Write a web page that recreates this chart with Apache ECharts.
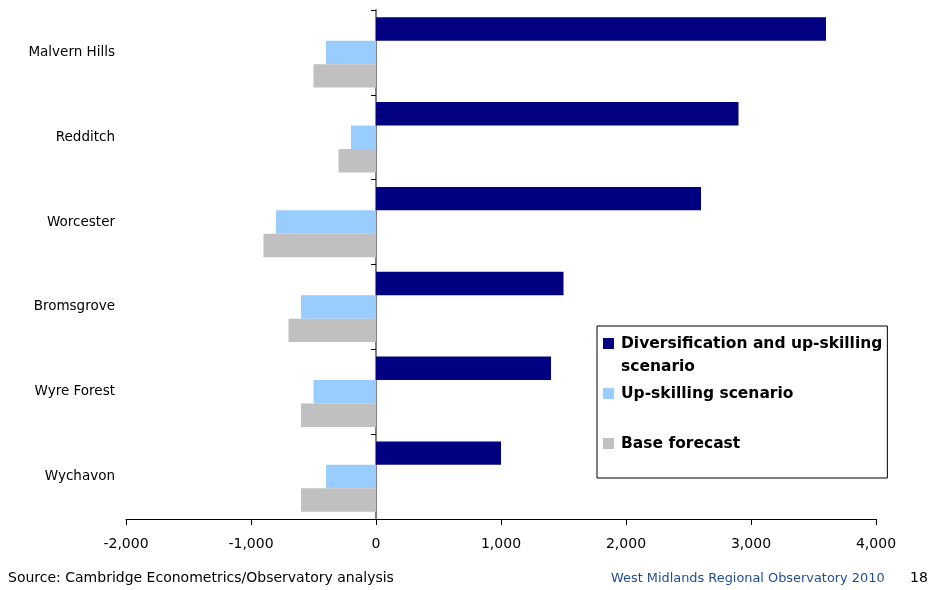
<!DOCTYPE html>
<html>
<head>
<meta charset="utf-8">
<script src="https://cdn.jsdelivr.net/npm/echarts@6/dist/echarts.min.js"></script>
<style>
  html, body { margin: 0; padding: 0; background: #fff; }
  #chart { width: 928px; height: 590px; }
</style>
</head>
<body>
<div id="chart"></div>
<script>
// districts, top to bottom
var districts = ['Malvern Hills', 'Redditch', 'Worcester', 'Bromsgrove', 'Wyre Forest', 'Wychavon'];

// change in jobs by scenario
var diversification = [3600, 2900, 2600, 1500, 1400, 1000];
var upSkilling = [-400, -200, -800, -600, -500, -400];
var baseForecast = [-500, -300, -900, -700, -600, -600];

var seriesNames = ['Diversification and up-skilling scenario', 'Up-skilling scenario', 'Base forecast'];
var legendLabels = ['Diversification and up-skilling\nscenario', 'Up-skilling scenario\n ', 'Base forecast\n '];

var FONT = '"DejaVu Sans", sans-serif';

var chart = echarts.init(document.getElementById('chart'));

// square marker sitting on the first text line
var topSquare = 'path://M0 0H11V11H0ZM0 34H0.05V34.05H0Z';

var option = {
    animation: false,
    textStyle: { fontFamily: FONT },
    grid: { left: 126, right: 52, top: 10, bottom: 71, containLabel: false },
    legend: {
        orient: 'vertical',
        left: 597,
        top: 326,
        data: seriesNames,
        icon: topSquare,
        itemWidth: 11,
        itemHeight: 34,
        itemGap: 4,
        padding: [6, 5, 0, 6],
        borderColor: '#000',
        borderWidth: 1,
        backgroundColor: '#fff',
        selectedMode: false,
        formatter: function (name) {
            return legendLabels[seriesNames.indexOf(name)];
        },
        textStyle: {
            fontFamily: FONT,
            fontSize: 15.5,
            fontWeight: 'bold',
            color: '#000',
            lineHeight: 23,
            padding: [0, 0, 0, 2]
        }
    },
    xAxis: {
        type: 'value',
        min: -2000,
        max: 4000,
        interval: 1000,
        axisLine: { show: true, onZero: false, lineStyle: { color: '#000', width: 1 } },
        axisTick: { show: true, length: 6, lineStyle: { color: '#000' } },
        splitLine: { show: false },
        axisLabel: {
            margin: 18,
            fontSize: 14,
            color: '#000',
            fontFamily: FONT,
            formatter: function (v) {
                return echarts.format.addCommas(v);
            }
        }
    },
    yAxis: [
        {
            type: 'category',
            data: districts,
            inverse: true,
            position: 'left',
            axisLine: { show: false, onZero: false },
            axisTick: { show: false },
            axisLabel: { margin: 11, fontSize: 13.5, color: '#000', fontFamily: FONT }
        },
        {
            type: 'category',
            data: districts,
            inverse: true,
            position: 'left',
            axisLine: { show: true, onZero: true, lineStyle: { color: '#808080', width: 2 } },
            axisTick: { show: true, length: 5, lineStyle: { color: '#000' } },
            axisLabel: { show: false }
        }
    ],
    series: [
        {
            name: seriesNames[0],
            type: 'bar',
            yAxisIndex: 0,
            data: diversification,
            barGap: 0,
            barCategoryGap: '17%',
            itemStyle: { color: '#000080' }
        },
        {
            name: seriesNames[1],
            type: 'bar',
            yAxisIndex: 0,
            data: upSkilling,
            itemStyle: { color: '#99CCFF' }
        },
        {
            name: seriesNames[2],
            type: 'bar',
            yAxisIndex: 0,
            data: baseForecast,
            itemStyle: { color: '#C0C0C0' }
        }
    ],
    title: [
        {
            text: 'Source: Cambridge Econometrics/Observatory analysis',
            left: 8,
            top: 571,
            padding: 0,
            textStyle: { fontFamily: FONT, fontSize: 14, fontWeight: 'normal', color: '#000' }
        },
        {
            text: 'West Midlands Regional Observatory 2010',
            left: 611,
            top: 572,
            padding: 0,
            textStyle: { fontFamily: FONT, fontSize: 12.9, fontWeight: 'normal', color: '#1F4E96' }
        },
        {
            text: '18',
            left: 910,
            top: 571,
            padding: 0,
            textStyle: { fontFamily: FONT, fontSize: 14, fontWeight: 'normal', color: '#000' }
        }
    ]
};

chart.setOption(option);
</script>
</body>
</html>
